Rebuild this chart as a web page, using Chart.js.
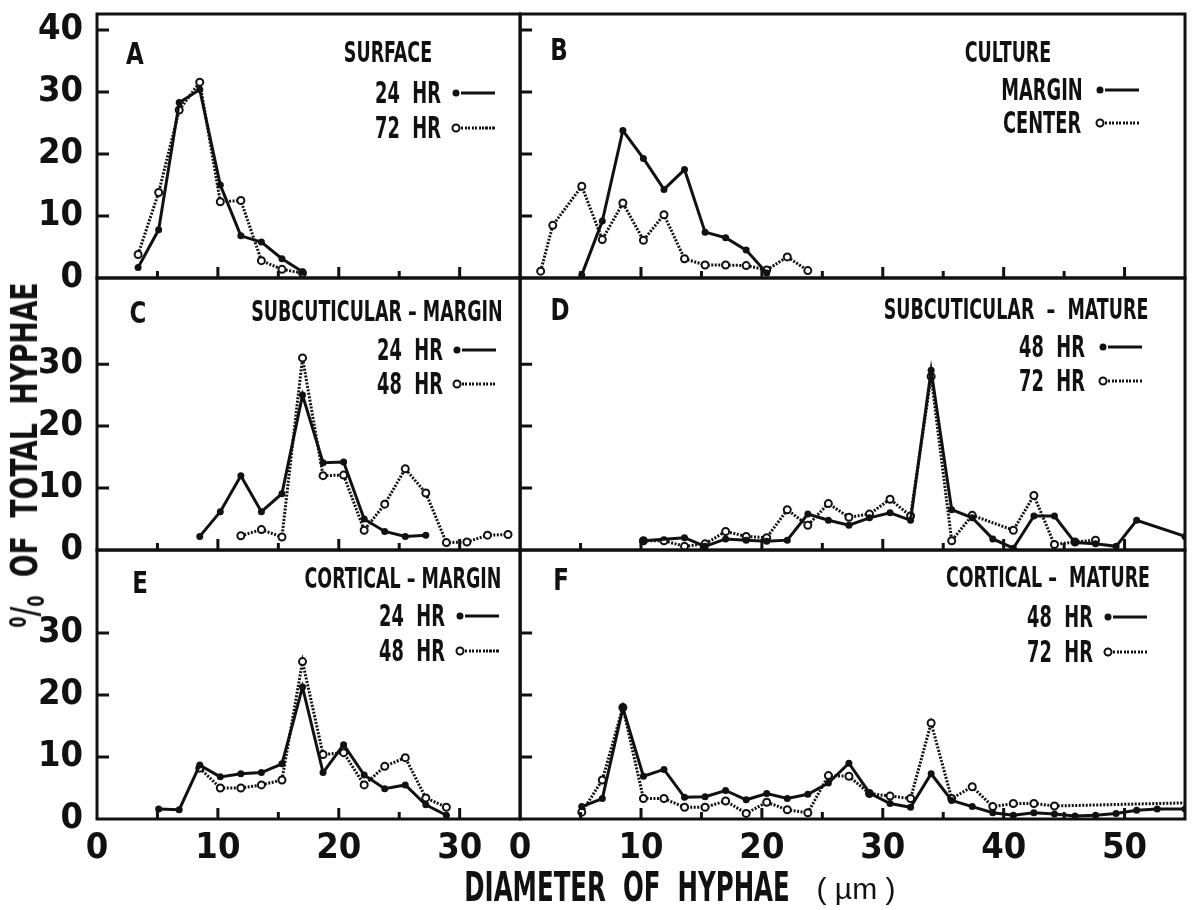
<!DOCTYPE html>
<html><head><meta charset="utf-8">
<script src="https://cdn.jsdelivr.net/npm/chart.js@4.4.1/dist/chart.umd.min.js"></script>
<style>
html,body{margin:0;padding:0;background:#fff;}
#wrap{position:relative;width:1192px;height:910px;overflow:hidden;background:#fff;}
canvas{position:absolute;left:0;top:0;}
.t{position:absolute;white-space:pre;font-family:"Liberation Sans Narrow","DejaVu Sans Condensed","Arial Narrow",sans-serif;font-weight:bold;color:#111;line-height:1;}
.dot{position:absolute;width:7px;height:7px;border-radius:50%;background:#111;transform:translate(-50%,-50%);}
.ring{position:absolute;width:5px;height:5px;border-radius:50%;border:2px solid #111;background:#fff;transform:translate(-50%,-50%);}
.ln{position:absolute;height:3px;background:#111;transform:translateY(-50%);}
.dl{position:absolute;height:3px;background:repeating-linear-gradient(90deg,#111 0 2px,transparent 2px 3.5px);transform:translateY(-50%);}
</style></head><body>
<div id="wrap"><canvas id="c" width="1192" height="910"></canvas></div>
<script>
// ---------- DATA (diameter in µm, % of total hyphae) ----------
// Panel A - SURFACE
const aX = [3.4, 5.1, 6.8, 8.5, 10.2, 11.9, 13.6, 15.3, 17.0];
const a24 = [1.7, 7.8, 28.3, 30.4, 15.0, 6.8, 5.8, 3.1, 1.0];
const a72 = [3.8, 13.8, 27.1, 31.6, 12.3, 12.5, 2.8, 1.4, 0.8];
// Panel B - CULTURE
const bMarginX = [5.1, 6.8, 8.5, 10.2, 11.9, 13.6, 15.3, 17.0, 18.7, 20.4];
const bMargin  = [0.5, 9.2, 23.8, 19.3, 14.3, 17.5, 7.4, 6.5, 4.5, 0.8];
const bCenterX = [1.7, 2.7, 5.1, 6.8, 8.5, 10.2, 11.9, 13.6, 15.3, 17.0, 18.7, 20.4, 22.1, 23.8];
const bCenter  = [1.1, 8.5, 14.8, 6.2, 12.1, 6.1, 10.2, 3.1, 2.1, 2.1, 2.0, 1.3, 3.4, 1.2];
// Panel C - SUBCUTICULAR - MARGIN
const c24X = [8.5, 10.2, 11.9, 13.6, 15.3, 17.0, 18.7, 20.4, 22.1, 23.8, 25.5, 27.2];
const c24  = [2.2, 6.2, 12.0, 6.2, 9.1, 25.0, 14.1, 14.2, 5.0, 3.0, 2.2, 2.4];
const c48X = [11.9, 13.6, 15.3, 17.0, 18.7, 20.4, 22.1, 23.8, 25.5, 27.2, 28.9, 30.6, 32.3, 34.0];
const c48  = [2.3, 3.3, 2.1, 31.0, 12.0, 12.1, 3.2, 7.4, 13.1, 9.2, 1.2, 1.3, 2.4, 2.5];
// Panel D - SUBCUTICULAR - MATURE
const d48X = [10.2, 13.6, 15.3, 17.0, 18.7, 20.4, 22.1, 23.8, 25.5, 27.2, 28.9, 30.6, 32.3, 34.0, 35.7, 37.4, 39.1, 40.8, 42.5, 44.2, 45.9, 47.6, 49.3, 51.0, 55.0];
const d48  = [1.5, 2.0, 0.6, 1.8, 1.6, 1.4, 1.6, 5.8, 4.8, 4.0, 5.2, 6.0, 4.8, 29.0, 6.5, 5.2, 1.8, 0.3, 5.5, 5.5, 1.2, 1.0, 0.6, 4.8, 2.2];
const d72X = [10.2, 11.9, 13.6, 15.3, 17.0, 18.7, 20.4, 22.1, 23.8, 25.5, 27.2, 28.9, 30.6, 32.3, 34.0, 35.7, 37.4, 40.8, 42.5, 44.2, 45.9, 47.6];
const d72  = [1.5, 1.5, 0.6, 1.0, 3.0, 2.2, 2.0, 6.5, 4.0, 7.5, 5.3, 5.8, 8.2, 5.5, 28.0, 1.5, 5.6, 3.2, 8.8, 0.9, 1.3, 1.6];
// Panel E - CORTICAL - MARGIN
const e24X = [5.1, 6.8, 8.5, 10.2, 11.9, 13.6, 15.3, 17.0, 18.7, 20.4, 22.1, 23.8, 25.5, 27.2, 28.9];
const e24  = [1.6, 1.5, 8.7, 6.8, 7.3, 7.5, 8.9, 21.3, 7.5, 12.0, 7.1, 4.9, 5.5, 2.3, 0.6];
const e48X = [8.5, 10.2, 11.9, 13.6, 15.3, 17.0, 18.7, 20.4, 22.1, 23.8, 25.5, 27.2, 28.9];
const e48  = [8.2, 5.0, 5.0, 5.5, 6.3, 25.4, 10.4, 10.7, 5.5, 8.5, 9.9, 3.4, 1.9];
// Panel F - CORTICAL - MATURE
const f48X = [5.1, 6.8, 8.5, 10.2, 11.9, 13.6, 15.3, 17.0, 18.7, 20.4, 22.1, 23.8, 25.5, 27.2, 28.9, 30.6, 32.3, 34.0, 35.7, 37.4, 39.1, 40.8, 42.5, 44.2, 45.9, 47.6, 49.3, 51.0, 52.7, 55.0];
const f48  = [2.0, 3.3, 17.9, 6.9, 8.0, 3.5, 3.6, 4.6, 3.1, 4.1, 3.3, 4.0, 5.8, 9.0, 4.2, 2.5, 1.9, 7.3, 3.0, 2.0, 1.0, 0.6, 1.0, 0.8, 0.5, 0.6, 0.9, 1.4, 1.6, 1.6];
const f72X = [5.1, 6.8, 8.5, 10.2, 11.9, 13.6, 15.3, 17.0, 18.7, 20.4, 22.1, 23.8, 25.5, 27.2, 28.9, 30.6, 32.3, 34.0, 35.7, 37.4, 39.1, 40.8, 42.5, 44.2, 55.0];
const f72  = [1.1, 6.3, 18.0, 3.3, 3.3, 1.9, 1.9, 2.9, 0.9, 2.7, 1.5, 1.0, 7.0, 6.9, 4.1, 3.7, 3.3, 15.5, 3.3, 5.2, 2.0, 2.5, 2.5, 2.1, 2.6];

// ---------- TICKS ----------
const xLabelsLeft  = [0, 10, 20, 30];
const xLabelsRight = [0, 10, 20, 30, 40, 50];
const yLabelsTop   = [0, 10, 20, 30, 40];
const yLabelsLower = [0, 10, 20, 30];
const xMarksLeft   = [5, 10, 15, 20, 25, 30];
const xMarksRight  = [5, 10, 15, 20, 25, 30, 35, 40, 45, 50];
const yMarksTop    = [10, 20, 30, 40];
const yMarksLower  = [10, 20, 30];

// ---------- CHART ----------
const FONT = '"Liberation Sans Narrow","DejaVu Sans Condensed","Arial Narrow",sans-serif';
const INK = '#111';
const pts = (xs, ys) => xs.map((x, i) => ({x: x, y: ys[i]}));
function solidSet(label, xs, ys, xId, yId) {
  return {label, data: pts(xs, ys), xAxisID: xId, yAxisID: yId, showLine: true,
    borderColor: INK, borderWidth: 3, tension: 0,
    pointRadius: 3.5, pointHoverRadius: 3.5, pointBackgroundColor: INK, pointBorderWidth: 0};
}
function dottedSet(label, xs, ys, xId, yId, hideLast) {
  const r = xs.map((_, i) => (hideLast && i === xs.length - 1) ? 0 : 3.5);
  return {label, data: pts(xs, ys), xAxisID: xId, yAxisID: yId, showLine: true,
    borderColor: INK, borderWidth: 3, borderDash: [2, 1.5], tension: 0,
    pointRadius: r, pointHoverRadius: r, pointBackgroundColor: '#fff', pointBorderColor: INK, pointBorderWidth: 2};
}
const tickFont = {family: FONT, weight: 'bold', size: 36};
function noPad(s) { s.paddingTop = 0; s.paddingBottom = 0; s.paddingLeft = 0; s.paddingRight = 0; }
function xScale(max, labels) {
  return {type: 'linear', position: 'bottom', stack: 'x', stackWeight: max, min: 0, max: max,
    grid: {display: false, drawTicks: false}, border: {display: false},
    ticks: {color: INK, font: tickFont, padding: 8, maxRotation: 0, autoSkip: false},
    afterBuildTicks: s => { s.ticks = labels.map(v => ({value: v})); },
    afterFit: s => { s.height = 91; noPad(s); }};
}
function yScale(max, labels, order) {
  return {type: 'linear', position: 'left', stack: 'y', stackWeight: max, weight: order, min: 0, max: max,
    grid: {display: false, drawTicks: false}, border: {display: false},
    ticks: {color: INK, font: tickFont, padding: 14, autoSkip: false},
    afterBuildTicks: s => { s.ticks = labels.map(v => ({value: v})); },
    afterFit: s => { s.width = 97; noPad(s); }};
}
const panels = [
  {x: 'xL', y: 'yA', xm: xMarksLeft,  ym: yMarksTop},
  {x: 'xR', y: 'yA', xm: xMarksRight, ym: yMarksTop},
  {x: 'xL', y: 'yC', xm: xMarksLeft,  ym: yMarksLower},
  {x: 'xR', y: 'yC', xm: xMarksRight, ym: yMarksLower},
  {x: 'xL', y: 'yE', xm: xMarksLeft,  ym: yMarksLower},
  {x: 'xR', y: 'yE', xm: xMarksRight, ym: yMarksLower}
];
const framePlugin = {
  id: 'frames',
  afterDraw(chart) {
    const ctx = chart.ctx;
    ctx.save();
    ctx.strokeStyle = INK;
    ctx.lineWidth = 3;
    ctx.lineCap = 'butt';
    for (const p of panels) {
      const xs = chart.scales[p.x], ys = chart.scales[p.y];
      ctx.strokeRect(xs.left, ys.top, xs.right - xs.left, ys.bottom - ys.top);
      ctx.beginPath();
      for (const v of p.xm) {
        const px = xs.getPixelForValue(v);
        const len = (v % 10 === 0) ? 11 : 7;
        ctx.moveTo(px, ys.bottom); ctx.lineTo(px, ys.bottom - len);
      }
      for (const v of p.ym) {
        const py = ys.getPixelForValue(v);
        ctx.moveTo(xs.left, py); ctx.lineTo(xs.left + 12, py);
      }
      ctx.stroke();
    }
    ctx.restore();
  }
};
new Chart(document.getElementById('c'), {
  type: 'scatter',
  data: {datasets: [
    solidSet('A 24 HR', aX, a24, 'xL', 'yA'),
    dottedSet('A 72 HR', aX, a72, 'xL', 'yA'),
    solidSet('B MARGIN', bMarginX, bMargin, 'xR', 'yA'),
    dottedSet('B CENTER', bCenterX, bCenter, 'xR', 'yA'),
    solidSet('C 24 HR', c24X, c24, 'xL', 'yC'),
    dottedSet('C 48 HR', c48X, c48, 'xL', 'yC'),
    solidSet('D 48 HR', d48X, d48, 'xR', 'yC'),
    dottedSet('D 72 HR', d72X, d72, 'xR', 'yC'),
    solidSet('E 24 HR', e24X, e24, 'xL', 'yE'),
    dottedSet('E 48 HR', e48X, e48, 'xL', 'yE'),
    solidSet('F 48 HR', f48X, f48, 'xR', 'yE'),
    dottedSet('F 72 HR', f72X, f72, 'xR', 'yE', true)
  ]},
  options: {
    responsive: false, animation: false, devicePixelRatio: 1,
    layout: {padding: {left: 0, top: 14, right: 7, bottom: 0}, autoPadding: false},
    plugins: {legend: {display: false}, tooltip: {enabled: false}},
    events: [],
    scales: {
      xL: xScale(35, xLabelsLeft),
      xR: xScale(55, xLabelsRight),
      yA: yScale(42.6, yLabelsTop, 3),
      yC: yScale(43.9, yLabelsLower, 2),
      yE: yScale(43.4, yLabelsLower, 1)
    }
  },
  plugins: [framePlugin]
});

// ---------- TEXT OVERLAYS ----------
const wrap = document.getElementById('wrap');
function txt(s, x, y, size, sx, extra) {
  const d = document.createElement('div');
  d.className = 't';
  d.innerHTML = s;
  d.style.left = x + 'px'; d.style.top = y + 'px'; d.style.fontSize = size + 'px';
  d.style.transform = 'translate(-50%,-50%) ' + (extra || '') + ' scaleX(' + sx + ')';
  wrap.appendChild(d);
  return d;
}
function sample(x, y, solid) {
  const m = document.createElement('div');
  m.className = solid ? 'dot' : 'ring';
  m.style.left = (x + 4) + 'px'; m.style.top = y + 'px';
  wrap.appendChild(m);
  const l = document.createElement('div');
  l.className = solid ? 'ln' : 'dl';
  l.style.left = (x + 9) + 'px'; l.style.top = y + 'px'; l.style.width = '34px';
  wrap.appendChild(l);
}
function legend(letter, lx, ly, title, tx, ty, rows, rx, sx0, y1, y2) {
  txt(letter, lx, ly, 30, 0.85);
  txt(title, tx, ty, 29, 0.67);
  txt(rows[0], rx, y1, 30, 0.66); sample(sx0, y1, true);
  txt(rows[1], rx, y2, 30, 0.66); sample(sx0, y2, false);
}
legend('A', 135, 54, 'SURFACE', 388, 52, ['24  HR', '72  HR'], 408, 452, 93, 128);
legend('B', 559, 50, 'CULTURE', 1008, 52, ['MARGIN', 'CENTER'], 1042, 1096, 90, 123);
legend('C', 138, 313, 'SUBCUTICULAR \u2013 MARGIN', 377, 311, ['24  HR', '48  HR'], 410, 453, 350, 384);
legend('D', 560, 310, 'SUBCUTICULAR  \u2013  MATURE', 1016, 309, ['48  HR', '72  HR'], 1052, 1099, 347, 381);
legend('E', 140, 583, 'CORTICAL \u2013 MARGIN', 403, 578, ['24  HR', '48  HR'], 412, 456, 616, 651);
legend('F', 561, 580, 'CORTICAL \u2013  MATURE', 1048, 577, ['48  HR', '72  HR'], 1060, 1104, 617, 652);
// axis titles
txt('<span style="font-size:60%;position:relative;top:-0.5em">0</span>/<span style="font-size:60%;position:relative;top:0.3em">0</span>  OF  TOTAL  HYPHAE', 24, 455, 38, 0.78, 'rotate(-90deg)');
txt('DIAMETER  OF  HYPHAE', 627, 887, 40, 0.68);
const mu = txt('( \u00b5m )', 856, 889, 30, 1);
mu.style.fontWeight = 'normal'; mu.style.fontFamily = '"Liberation Sans","DejaVu Sans",sans-serif';
</script>
</body></html>
